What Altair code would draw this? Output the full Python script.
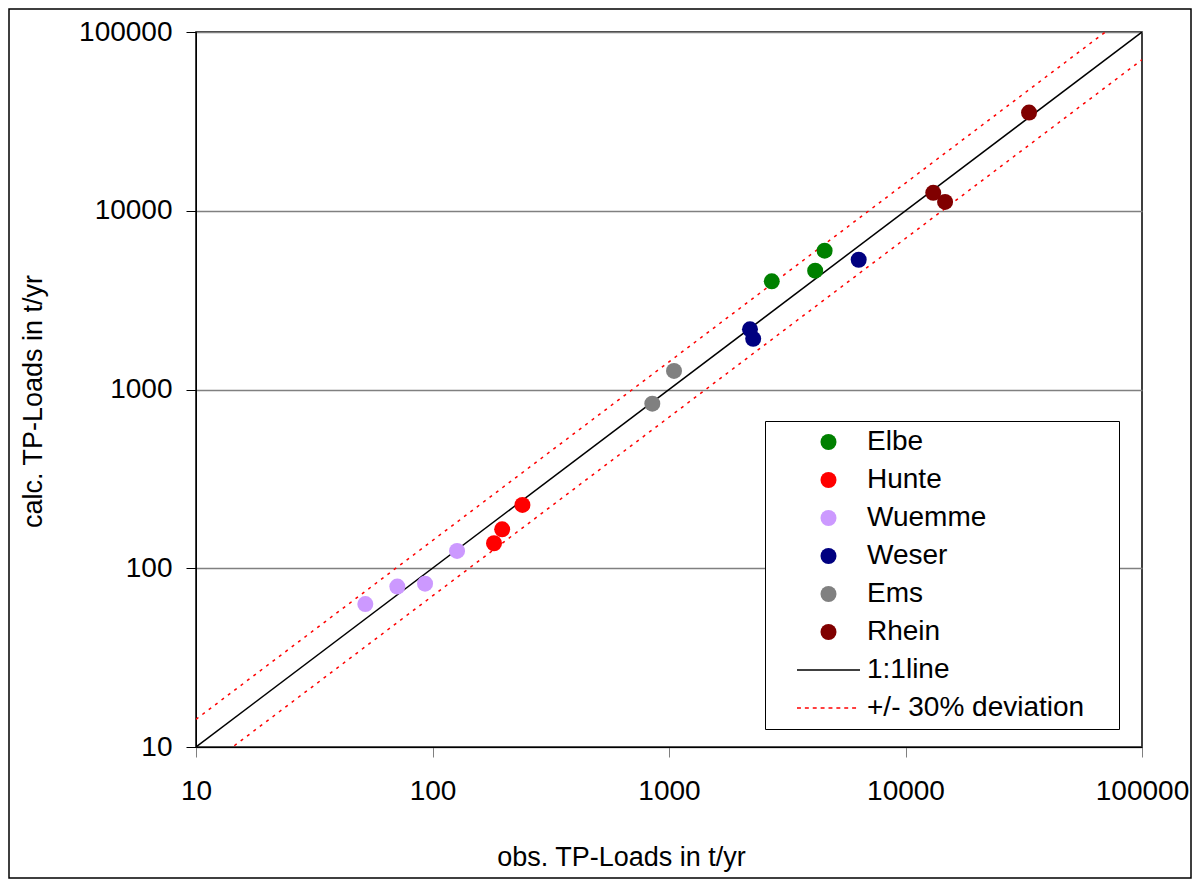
import altair as alt
import pandas as pd

# ---- data ----
series = ["Elbe", "Hunte", "Wuemme", "Weser", "Ems", "Rhein"]
colors = ["#008000", "#FF0000", "#CC99FF", "#000080", "#808080", "#800000"]

elbe_obs = [2720, 4150, 4550]
elbe_calc = [4030, 4620, 5980]
hunte_obs = [182, 197, 240]
hunte_calc = [138, 165, 226]
wuemme_obs = [52, 71, 93, 127]
wuemme_calc = [63, 79, 82, 125]
weser_obs = [2200, 2270, 6340]
weser_calc = [2170, 1920, 5320]
ems_obs = [850, 1050]
ems_calc = [833, 1270]
rhein_obs = [13100, 14700, 33300]
rhein_calc = [12600, 11200, 35400]

obs = [elbe_obs, hunte_obs, wuemme_obs, weser_obs, ems_obs, rhein_obs]
calc = [elbe_calc, hunte_calc, wuemme_calc, weser_calc, ems_calc, rhein_calc]

line_label = "1:1line"
dev_label = "+/- 30% deviation"
dev_factor = 0.7
line_ends = [10, 100000]
ticks = [10, 100, 1000, 10000, 100000]

# ---- tables ----
rows = []
for s, os_, cs in zip(series, obs, calc):
    for o, c in zip(os_, cs):
        rows.append({"series": s, "obs": o, "calc": c})
points = pd.DataFrame(rows)

one = pd.DataFrame({"obs": line_ends, "calc": line_ends})
dev = pd.DataFrame({
    "obs": line_ends + line_ends,
    "calc": [v / dev_factor for v in line_ends] + [v * dev_factor for v in line_ends],
    "band": ["upper", "upper", "lower", "lower"],
})

legend_domain = series + [line_label, dev_label]
legend_colors = colors + ["#000000", "#FF0000"]
solid_path = "M-1,-0.025H1V0.025H-1Z"
dash_path = "".join(
    f"M{a:.3f},-0.025H{a + 0.125:.3f}V0.025H{a:.3f}Z" for a in [-1 + 0.25 * i for i in range(8)]
)
legend_shapes = ["circle"] * 6 + [solid_path, dash_path]
legend_sizes = [256] * 6 + [3969, 3969]

FONT = "Liberation Sans"
PAD_TXT = "\u00a0\u2800"

x_enc = alt.X(
    "obs:Q",
    scale=alt.Scale(type="log", domain=[10, 100000], nice=False),
    axis=alt.Axis(
        values=ticks, format="d", grid=False, tickSize=10, tickColor="#808080",
        domainColor="#000000", labelFontSize=28, labelFont=FONT, labelColor="#000000",
        labelPadding=20, labelFlush=False, labelOverlap=False,
        title="obs. TP-Loads in t/yr", titleFont=FONT, titleFontSize=27,
        titleFontWeight="normal", titleColor="#000000", titleX=425, titleY=118,
        titleAlign="center", titleBaseline="alphabetic",
    ),
)
y_enc = alt.Y(
    "calc:Q",
    scale=alt.Scale(type="log", domain=[10, 100000], nice=False),
    axis=alt.Axis(
        values=ticks, format="d", grid=True, gridColor="#808080", gridWidth=1.5,
        tickSize=10, tickColor="#000000", domainColor="#000000",
        labelFontSize=28, labelFont=FONT, labelColor="#000000", labelPadding=14,
        labelOverlap=False,
        title="calc. TP-Loads in t/yr", titleFont=FONT, titleFontSize=27,
        titleFontWeight="normal", titleColor="#000000", titleAngle=270,
        titleX=-163, titleY=369, titleAlign="center", titleBaseline="middle",
    ),
)

leg = alt.Legend(
    title=None, orient="none", legendX=569, legendY=389, padding=6,
    symbolOffset=26, clipHeight=30, rowPadding=8, labelOffset=7,
    labelFontSize=28, labelFont=FONT, labelColor="#000000", labelLimit=400,
    strokeColor="#000000", fillColor="#FFFFFF", symbolStrokeWidth=0,
    symbolOpacity=1, labelExpr="datum.label + '" + PAD_TXT + "'", cornerRadius=0,
)

frame = alt.Chart(pd.DataFrame({"k": [0]})).mark_rect(
    fillOpacity=0, stroke="#000000", strokeWidth=1.5
).encode(
    x=alt.value(-187), x2=alt.value(995), y=alt.value(-23), y2=alt.value(846)
)

dev_layer = alt.Chart(dev).mark_line(
    color="#FF0000", strokeDash=[3, 5], strokeWidth=1.5, clip=True
).encode(x=x_enc, y=y_enc, detail="band:N")

one_layer = alt.Chart(one).mark_line(
    color="#000000", strokeWidth=1.5, clip=True
).encode(x=x_enc, y=y_enc)

pts = alt.Chart(points).mark_point(filled=True, opacity=1, strokeWidth=0).encode(
    x=x_enc,
    y=y_enc,
    color=alt.Color("series:N", scale=alt.Scale(domain=legend_domain, range=legend_colors), legend=leg),
    shape=alt.Shape("series:N", scale=alt.Scale(domain=legend_domain, range=legend_shapes), legend=leg),
    size=alt.Size("series:N", scale=alt.Scale(type="ordinal", domain=legend_domain, range=legend_sizes), legend=leg),
)

chart = alt.layer(frame, dev_layer, one_layer, pts).properties(
    width=946, height=715,
    autosize=alt.AutoSizeParams(type="none"),
    padding={"left": 188, "top": 24, "right": 50, "bottom": 132},
    background="#FFFFFF",
).configure_view(stroke="#000000", strokeWidth=1.5)

chart.save("out.html", embed_options={"renderer": "svg", "actions": False})
